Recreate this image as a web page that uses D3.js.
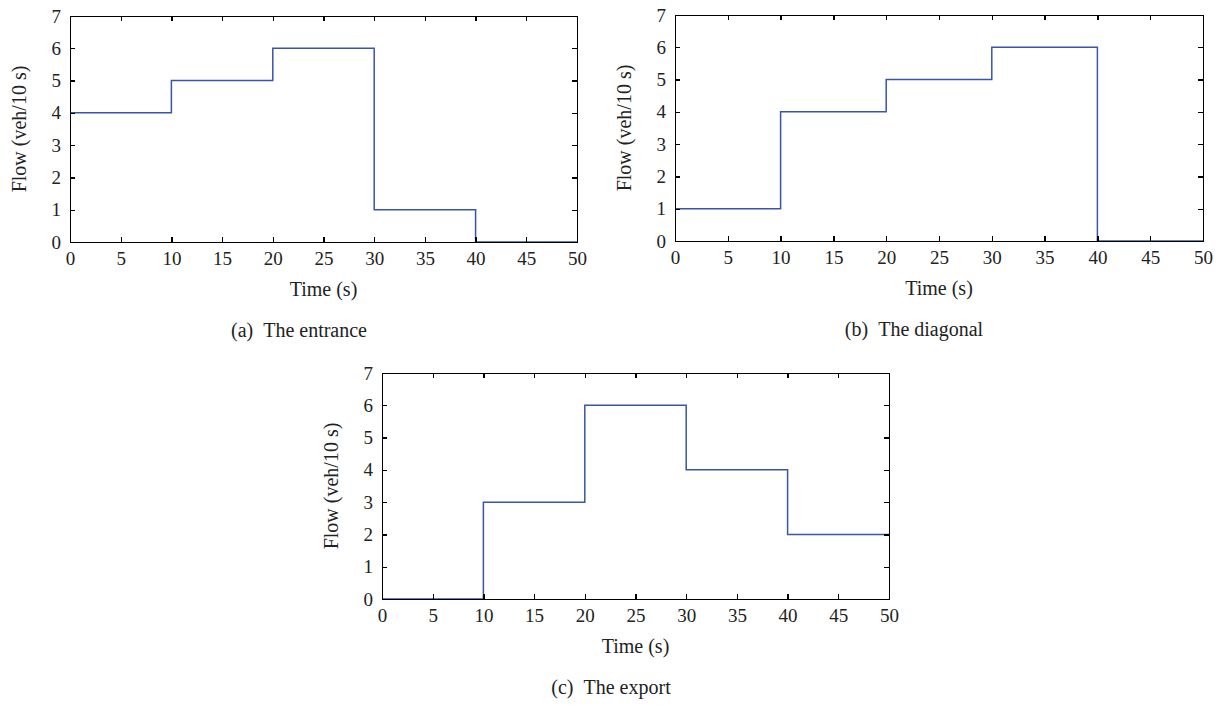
<!DOCTYPE html>
<html lang="en">
<head>
    <meta charset="UTF-8">
    <title>Flow step charts</title>
    <script type="text/javascript" src="https://cdn.jsdelivr.net/npm/d3@7/dist/d3.min.js"></script>
    <style>
        body { margin: 0; background: #fff; }
        svg { display: block; font-family: "Liberation Serif", "Times New Roman", serif; }
        .axis path, .axis line { fill: none; stroke: #000; stroke-width: 1.3; shape-rendering: crispEdges; }
        .axis text { fill: #222; }
        .lab { font-size: 20px; fill: #222; }
        .flow { fill: none; stroke: #3656a8; stroke-width: 1.5; }
    </style>
</head>
<body>
<script type="text/javascript">
    // data
    let times = [0, 10, 20, 30, 40, 50];
    let entrance = [4, 5, 6, 1, 0];
    let diagonal = [1, 4, 5, 6, 0];
    let exportFlow = [0, 3, 6, 4, 2];
    let xTicks = [0, 5, 10, 15, 20, 25, 30, 35, 40, 45, 50];
    let yTicks = [0, 1, 2, 3, 4, 5, 6, 7];
    let captions = ['(a)\u2002The entrance', '(b)\u2002The diagonal', '(c)\u2002The export'];

    let serif = '"Liberation Serif", "Times New Roman", serif';

    let svg = d3.select('body').append('svg')
        .attr('width', 1222)
        .attr('height', 705);

    // panel boxes in pixels
    let panels = [
        {x0: 70, x1: 577, y0: 16, y1: 242, values: entrance, cap: 299},
        {x0: 675, x1: 1203, y0: 15, y1: 241, values: diagonal, cap: 914},
        {x0: 382, x1: 889, y0: 373, y1: 599, values: exportFlow, cap: 611}
    ];

    let fmt = d3.format('d');

    panels.forEach(function (p, k) {
        let x = d3.scaleLinear().domain([0, 50]).range([p.x0, p.x1]);
        let y = d3.scaleLinear().domain([0, 7]).range([p.y1, p.y0]);
        let g = svg.append('g');

        // step line (last value held to the end)
        let pts = times.map(function (t, i) {
            return [t, i < p.values.length ? p.values[i] : p.values[p.values.length - 1]];
        });
        let line = d3.line()
            .x(function (d) { return x(d[0]); })
            .y(function (d) { return y(d[1]); })
            .curve(d3.curveStepAfter);
        g.append('path').attr('class', 'flow').attr('d', line(pts));

        // box axes, ticks pointing inward
        let axes = [
            g.append('g').attr('transform', 'translate(0,' + p.y1 + ')')
                .call(d3.axisBottom(x).tickValues(xTicks).tickFormat(fmt).tickSize(-5).tickPadding(10).tickSizeOuter(0)),
            g.append('g').attr('transform', 'translate(0,' + p.y0 + ')')
                .call(d3.axisTop(x).tickValues(xTicks).tickSize(-5).tickSizeOuter(0).tickFormat('')),
            g.append('g').attr('transform', 'translate(' + p.x0 + ',0)')
                .call(d3.axisLeft(y).tickValues(yTicks).tickFormat(fmt).tickSize(-5).tickPadding(9).tickSizeOuter(0)),
            g.append('g').attr('transform', 'translate(' + p.x1 + ',0)')
                .call(d3.axisRight(y).tickValues(yTicks).tickSize(-5).tickSizeOuter(0).tickFormat(''))
        ];
        axes.forEach(function (a) {
            a.attr('class', 'axis').attr('font-family', serif).attr('font-size', 19);
        });

        // labels
        g.append('text').attr('class', 'lab')
            .attr('x', (p.x0 + p.x1) / 2).attr('y', p.y1 + 54)
            .attr('text-anchor', 'middle').text('Time (s)');
        g.append('text').attr('class', 'lab')
            .attr('transform', 'translate(' + (p.x0 - 44) + ',' + ((p.y0 + p.y1) / 2) + ') rotate(-90)')
            .attr('text-anchor', 'middle').text('Flow (veh/10 s)');
        g.append('text').attr('class', 'lab')
            .attr('x', p.cap).attr('y', p.y1 + 95)
            .attr('text-anchor', 'middle').text(captions[k]);
    });
</script>
</body>
</html>
